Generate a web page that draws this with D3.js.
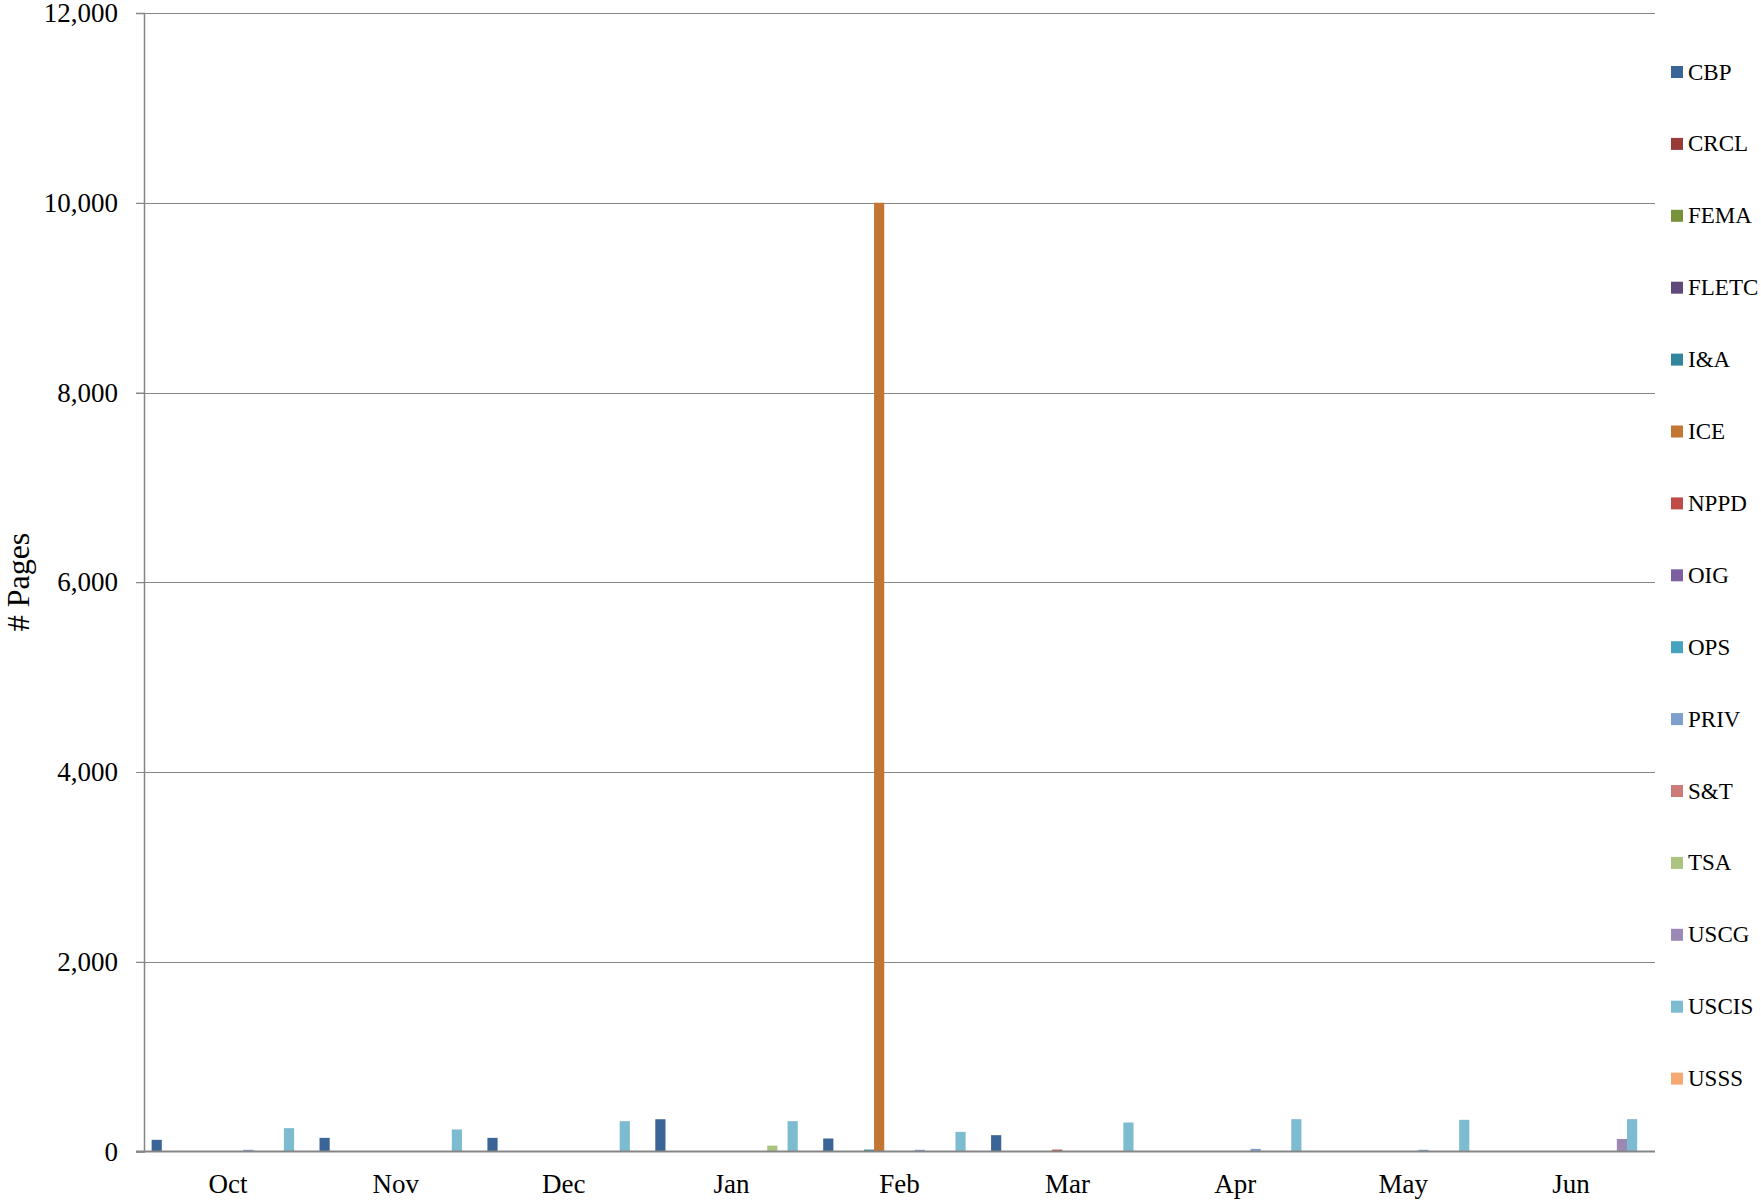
<!DOCTYPE html>
<html>
<head>
<meta charset="utf-8">
<script src="https://cdn.jsdelivr.net/npm/d3@7"></script>
<style>
  body { margin: 0; background: #fff; }
  svg text { font-family: "Liberation Serif", "Times New Roman", serif; fill: #000; }
</style>
</head>
<body>
<svg id="chart" width="1761" height="1204"></svg>
<script>
// Months along the x axis.
const months = ["Oct", "Nov", "Dec", "Jan", "Feb", "Mar", "Apr", "May", "Jun"];

// Pages per component, per month.
const CBP   = [123, 144, 144, 340, 137, 172, 0, 0, 0];
const CRCL  = [0, 0, 0, 0, 0, 0, 0, 0, 0];
const FEMA  = [0, 0, 0, 0, 0, 0, 0, 0, 0];
const FLETC = [0, 0, 0, 0, 0, 0, 0, 0, 0];
const IA    = [0, 0, 0, 0, 20, 0, 0, 0, 0];
const ICE   = [0, 0, 0, 0, 10000, 0, 0, 0, 0];
const NPPD  = [0, 0, 0, 0, 0, 20, 0, 0, 0];
const OIG   = [0, 0, 0, 0, 0, 0, 0, 0, 0];
const OPS   = [0, 0, 0, 0, 0, 0, 0, 0, 0];
const PRIV  = [18, 0, 0, 0, 18, 0, 28, 18, 0];
const ST    = [0, 0, 0, 0, 0, 0, 0, 0, 0];
const TSA   = [0, 0, 0, 62, 0, 0, 0, 0, 0];
const USCG  = [0, 0, 0, 0, 0, 0, 0, 0, 132];
const USCIS = [246, 232, 320, 320, 207, 306, 341, 334, 341];
const USSS  = [0, 0, 0, 0, 0, 0, 0, 0, 0];

const seriesNames = ["CBP", "CRCL", "FEMA", "FLETC", "I&A", "ICE", "NPPD", "OIG",
    "OPS", "PRIV", "S&T", "TSA", "USCG", "USCIS", "USSS"];
const seriesValues = [CBP, CRCL, FEMA, FLETC, IA, ICE, NPPD, OIG,
    OPS, PRIV, ST, TSA, USCG, USCIS, USSS];
const seriesColors = ["#3b6597", "#983a38", "#77923b", "#5f4a7b", "#31859c", "#c37532",
    "#be4b48", "#7d60a0", "#46a3bd", "#7e9ecc", "#cc7b79", "#abc47f", "#9b88b5",
    "#7dbbd1", "#f6a972"];

const yTicks = [0, 2000, 4000, 6000, 8000, 10000, 12000];

const svg = d3.select("#chart");

const plotLeft = 144, plotRight = 1655, plotTop = 13, plotBottom = 1151.5;
const axisColor = "#868686";

const x0 = d3.scaleBand().domain(months).range([plotLeft, plotRight]).paddingInner(0).paddingOuter(0);
const x1 = d3.scaleBand().domain(seriesNames).range([0, x0.bandwidth()])
    .paddingInner(0).paddingOuter(0.75);
const y = d3.scaleLinear().domain([0, 12000]).range([plotBottom, plotTop]);
const color = d3.scaleOrdinal().domain(seriesNames).range(seriesColors);

// Gridlines.
svg.append("g")
    .selectAll("line")
    .data(yTicks.filter((t) => t > 0))
    .join("line")
    .attr("x1", plotLeft - 8)
    .attr("x2", plotRight)
    .attr("y1", (d) => Math.round(y(d)) + 0.5)
    .attr("y2", (d) => Math.round(y(d)) + 0.5)
    .attr("stroke", axisColor)
    .attr("stroke-width", 1);

// Y axis.
const yAxis = svg.append("g")
    .attr("transform", `translate(${plotLeft},0)`)
    .call(d3.axisLeft(y).tickValues(yTicks).tickFormat(d3.format(",")).tickSize(8).tickPadding(18));
yAxis.select(".domain").attr("stroke", axisColor).attr("stroke-width", 1.5);
yAxis.selectAll(".tick line").attr("stroke", axisColor);
yAxis.selectAll(".tick text")
    .attr("font-size", 27)
    .attr("font-family", "Liberation Serif, Times New Roman, serif")
    .attr("fill", "#000");

// Bars.
const table = months.map((m, i) => ({
    month: m,
    items: seriesNames.map((s, j) => ({ key: s, value: seriesValues[j][i] }))
}));

svg.append("g")
    .selectAll("g")
    .data(table)
    .join("g")
    .attr("transform", (d) => `translate(${x0(d.month)},0)`)
    .selectAll("rect")
    .data((d) => d.items.filter((it) => it.value > 0))
    .join("rect")
    .attr("x", (d) => x1(d.key))
    .attr("width", x1.bandwidth())
    .attr("y", (d) => y(d.value))
    .attr("height", (d) => plotBottom - y(d.value))
    .attr("fill", (d) => color(d.key));

// X axis baseline and month labels.
svg.append("line")
    .attr("x1", plotLeft - 8)
    .attr("x2", plotRight)
    .attr("y1", plotBottom)
    .attr("y2", plotBottom)
    .attr("stroke", axisColor)
    .attr("stroke-width", 2);

svg.append("g")
    .selectAll("text")
    .data(months)
    .join("text")
    .attr("x", (d) => x0(d) + x0.bandwidth() / 2)
    .attr("y", 1193)
    .attr("text-anchor", "middle")
    .attr("font-size", 27)
    .text((d) => d);

// Y axis title.
svg.append("text")
    .attr("transform", "translate(29,582) rotate(-90)")
    .attr("text-anchor", "middle")
    .attr("font-size", 32)
    .text("# Pages");

// Legend.
const legend = svg.append("g")
    .selectAll("g")
    .data(seriesNames)
    .join("g")
    .attr("transform", (d, i) => `translate(1671,${72 + i * 71.9})`);

legend.append("rect")
    .attr("x", 0)
    .attr("y", -6)
    .attr("width", 12)
    .attr("height", 12)
    .attr("fill", (d) => color(d));

legend.append("text")
    .attr("x", 17)
    .attr("y", 0)
    .attr("dy", "0.33em")
    .attr("font-size", 23)
    .text((d) => d);
</script>
</body>
</html>
